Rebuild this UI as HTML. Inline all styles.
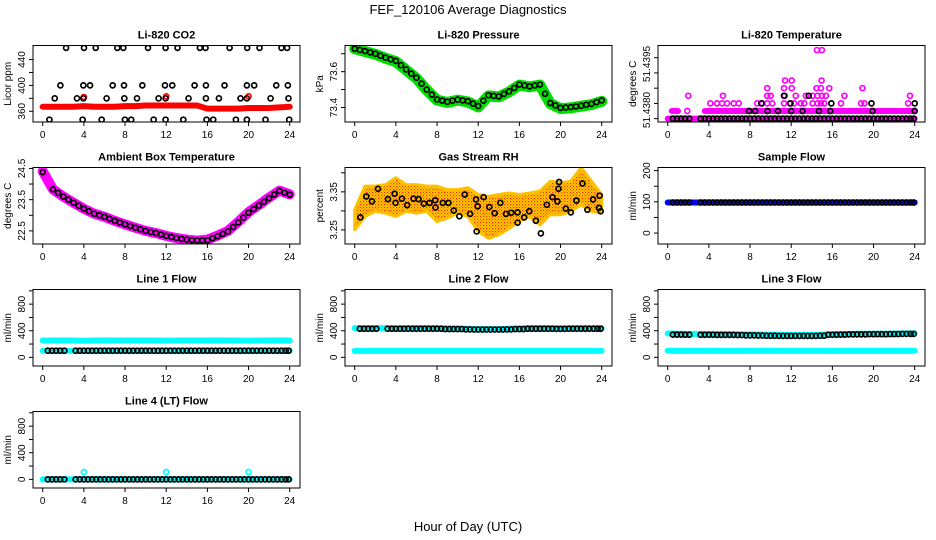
<!DOCTYPE html>
<html><head><meta charset="utf-8">
<style>
html,body{margin:0;padding:0;background:#fff;}
svg{display:block;font-family:"Liberation Sans",Arial,sans-serif;}
.t{font-weight:bold;font-size:11px;}
.ax{font-size:10px;}
</style></head>
<body>
<svg id="chart" width="936" height="540" viewBox="0 0 936 540">
<defs>
<pattern id="rhpat" width="3" height="3" patternUnits="userSpaceOnUse">
<rect width="3" height="3" fill="#ffd400"/>
<rect x="0" y="0" width="1.2" height="1.2" fill="#ff2000"/>
<rect x="1.5" y="1.5" width="1.2" height="1.2" fill="#ff6000"/>
</pattern>
</defs>
<text x="468" y="14" text-anchor="middle" font-size="13">FEF_120106  Average Diagnostics</text>
<text x="468" y="531" text-anchor="middle" font-size="13">Hour of Day (UTC)</text>
</svg>
<script>
// ---------- data ----------
const hours = [0,1,2,3,4,5,6,7,8,9,10,11,12,13,14,15,16,17,18,19,20,21,22,23,24];
const xTicks = [0,4,8,12,16,20,24];
const obsT = [0.5,0.9,1.3,1.7,2.1,3.2,3.6,4.0,4.4,4.8,5.2,5.6,6.0,6.4,6.8,7.2,7.6,8.0,8.4,8.8,9.2,9.6,10.0,10.4,10.8,11.2,11.6,12.0,12.4,12.8,13.2,13.6,14.0,14.4,14.8,15.2,15.6,16.0,16.4,16.8,17.2,17.6,18.0,18.4,18.8,19.2,19.6,20.0,20.4,20.8,21.2,21.6,22.0,22.4,22.8,23.2,23.6,23.9];

const co2Band = [367,367,367,367,368,367,367,367,368,368,369,369,369,369,369,369,364,364,364,364,365,365,365,366,367];
const co2BlackT = [2.27,4.01,5.15,7.25,7.83,10.23,11.94,13.1,15.27,15.82,18.16,19.87,21.07,23.2,23.75,
 1.72,3.95,4.6,6.8,7.9,9.68,11.88,12.59,14.76,15.86,17.67,19.84,20.55,22.69,23.82,
 1.17,3.33,3.95,6.21,7.93,9.16,11.26,11.94,14.17,15.86,17.12,19.22,19.84,22.14,23.88,
 0.65,3.88,5.73,7.99,8.6,10.78,11.94,13.66,15.92,16.57,18.77,19.84,21.65,23.95];
const co2BlackV = [458,458,458,458,458,458,458,458,458,458,458,458,458,458,458,
 400,400,400,400,400,400,400,400,400,400,400,400,400,400,400,
 380,380,380,380,380,380,380,380,380,380,380,380,380,380,380,
 347,347,347,347,347,347,347,347,347,347,347,347,347,347];
const co2RedT = [4,12,20];
const co2RedV = [382,383,383];

const pressBand = [73.728,73.712,73.697,73.675,73.656,73.609,73.563,73.497,73.441,73.428,73.441,73.431,73.403,73.465,73.459,73.487,73.525,73.515,73.525,73.422,73.394,73.398,73.407,73.416,73.434];
const pressBlack = [73.728,73.715,73.700,73.678,73.660,73.612,73.566,73.500,73.445,73.432,73.444,73.435,73.408,73.468,73.462,73.490,73.528,73.518,73.528,73.425,73.398,73.402,73.410,73.420,73.440];

const tempDenseStart = [0.0, 3.6, 0.4];
const tempDenseEnd = [24.0, 24.0, 1.0];
const tempDenseV = [51.4380, 51.43825, 51.43825];
const tempMagT = [1.9,2.0,4.14,4.79,5.28,5.77,6.42,6.9,8.7,9.19,9.67,10.16,11.3,11.95,12.28,12.93,13.26,14.07,14.56,14.89,15.21,16.84,18.79,19.12,23.36,
 5.37,9.67,10.0,11.37,12.44,13.42,14.07,14.56,14.98,15.37,17.17,23.54,
 9.67,11.3,12.05,14.46,14.89,15.7,18.93, 11.4,12.05,14.95, 14.5,14.98];
const tempMagV = [51.43825,51.43875,51.4385,51.4385,51.4385,51.4385,51.4385,51.4385,51.4385,51.4385,51.4385,51.4385,51.4385,51.4385,51.4385,51.4385,51.4385,51.4385,51.4385,51.4385,51.4385,51.4385,51.4385,51.4385,51.4385,
 51.43875,51.43875,51.43875,51.43875,51.43875,51.43875,51.43875,51.43875,51.43875,51.43875,51.43875,51.43875,
 51.4390,51.4390,51.4390,51.4390,51.4390,51.4390,51.4390, 51.43925,51.43925,51.43925, 51.44025,51.44025];
const tempBlackT = [11.3,13.7,9.1,11.9,15.9,19.8,24.0,7.9,8.5,9.7,10.7,12.0,13.1,14.7,15.8,19.9,24.0];
const tempBlackV = [51.43875,51.43875,51.4385,51.4385,51.4385,51.4385,51.4385,51.43825,51.43825,51.43825,51.43825,51.43825,51.43825,51.43825,51.43825,51.43825,51.43825];
const tempBaseBlack = 51.4380;

const ambBand = [24.41,23.83,23.6,23.4,23.21,23.05,22.95,22.82,22.71,22.6,22.5,22.43,22.34,22.27,22.22,22.19,22.22,22.35,22.5,22.79,23.1,23.33,23.57,23.79,23.67];
const ambBlack = [24.38,23.83,23.6,23.4,23.21,23.05,22.95,22.82,22.71,22.6,22.5,22.43,22.34,22.27,22.22,22.19,22.2,22.33,22.48,22.77,23.08,23.31,23.55,23.78,23.66];

const rhUpper = [3.303,3.365,3.365,3.369,3.387,3.369,3.369,3.365,3.365,3.356,3.356,3.361,3.343,3.338,3.343,3.347,3.343,3.347,3.352,3.378,3.374,3.378,3.414,3.378,3.343];
const rhLower = [3.25,3.285,3.299,3.294,3.285,3.299,3.294,3.299,3.272,3.281,3.294,3.285,3.246,3.228,3.237,3.254,3.272,3.285,3.263,3.29,3.29,3.299,3.316,3.299,3.294];
const rhBlackT = [0.55,1.13,1.68,2.26,3.23,3.88,3.97,4.59,5.1,5.72,6.2,6.72,7.27,7.82,7.85,8.56,9.11,9.63,10.17,10.69,11.21,11.79,11.85,11.95,12.53,13.08,13.6,14.15,14.7,15.21,15.83,15.83,16.47,16.96,17.6,18.09,18.67,19.22,19.7,19.8,19.86,20.51,21.0,21.54,22.13,22.61,23.16,23.74,23.8,23.9];
const rhBlackV = [3.283,3.338,3.325,3.358,3.331,3.345,3.321,3.332,3.315,3.332,3.331,3.319,3.321,3.328,3.309,3.321,3.321,3.301,3.286,3.343,3.292,3.330,3.246,3.312,3.336,3.310,3.294,3.321,3.292,3.295,3.296,3.269,3.283,3.299,3.274,3.241,3.316,3.336,3.325,3.358,3.376,3.306,3.296,3.327,3.372,3.303,3.330,3.308,3.340,3.299];

const sampleBand = [98,98,98,98,98,98,98,98,98,98,98,98,98,98,98,98,98,98,98,98,98,98,98,98,98];
const sampleBlack = [98,98,98,98,98,98,98,98,98,98,98,98,98,98,98,98,98,98,98,98,98,98,98,98,98];

const l1Upper = [254,254,254,254,250,254,254,254,254,254,254,254,252,254,254,254,254,254,254,254,250,254,254,254,254];
const l1Lower = [100,100,100,100,100,100,100,100,100,100,100,100,100,100,100,100,100,100,100,100,100,100,100,100,100];
const l1Black = [100,100,100,100,100,100,100,100,100,100,100,100,100,100,100,100,100,100,100,100,100,100,100,100,100];

const l2Upper = [440,440,440,440,435,440,440,440,440,435,435,430,425,425,425,430,435,440,440,440,435,440,440,440,440];
const l2Lower = [98,98,98,98,98,98,98,98,98,98,98,98,98,98,98,98,98,98,98,98,98,98,98,98,98];
const l2Black = [430,430,430,430,430,430,430,430,430,425,425,420,418,418,418,420,425,430,430,430,428,430,430,430,430];

const l3Upper = [360,355,352,350,350,350,348,345,345,342,340,338,338,338,340,342,348,350,352,355,355,355,358,360,362];
const l3Lower = [100,100,100,100,100,100,100,100,100,100,100,100,100,100,100,100,100,100,100,100,100,100,100,100,100];
const l3Black = [345,342,340,340,340,338,338,335,330,328,325,322,322,322,322,325,340,342,345,345,348,348,350,352,352];

const l4Band = [0,0,0,0,0,0,0,0,0,0,0,0,0,0,0,0,0,0,0,0,0,0,0,0,0];
const l4Black = [0,0,0,0,0,0,0,0,0,0,0,0,0,0,0,0,0,0,0,0,0,0,0,0,0];
const l4SpikeT = [4,12,20];
const l4SpikeV = [110,110,110];

// ---------- layout ----------
const NS = 'http://www.w3.org/2000/svg';
const svg = document.getElementById('chart');
const colL = [33, 345, 658];
const rowT = [45.5, 167.5, 289.5, 411.5];
const W = 267, H = 76.5;

function mk(tag, attrs, parent){
  const e = document.createElementNS(NS, tag);
  for (const k in attrs) e.setAttribute(k, attrs[k]);
  (parent||svg).appendChild(e);
  return e;
}

function panel(col,row,title,ylab,dom,ticks,labels,slug){
  const L = colL[col], T = rowT[row];
  const g = mk('g',{});
  
  
  const x = t => L + 9.7 + t*(247/24);
  const y = v => T + H - (v-dom[0])/(dom[1]-dom[0])*H;
  const tt = mk('text',{x:L+W/2,y:T-7,'text-anchor':'middle','class':'t'},g);
  tt.textContent = title;
  
  
  const yl = mk('text',{x:0,y:0,'text-anchor':'middle','class':'ax',transform:`translate(${L-22},${T+H/2}) rotate(-90)`},g);
  yl.textContent = ylab;
  
  
  const xa = mk('g',{},g);
  
  
  mk('line',{x1:x(0),x2:x(24),y1:T+H,y2:T+H,stroke:'#000','stroke-width':1},xa);
  xTicks.forEach(t=>{
    mk('line',{x1:x(t),x2:x(t),y1:T+H,y2:T+H+4,stroke:'#000','stroke-width':1},xa);
    const lb = mk('text',{x:x(t),y:T+H+16,'text-anchor':'middle','class':'ax'},xa);
    lb.textContent = t;
  });
  const ya = mk('g',{},g);
  
  
  mk('line',{x1:L,x2:L,y1:y(ticks[0]),y2:y(ticks[ticks.length-1]),stroke:'#000','stroke-width':1},ya);
  ticks.forEach(v=>{
    mk('line',{x1:L-4,x2:L,y1:y(v),y2:y(v),stroke:'#000','stroke-width':1},ya);
  });
  labels.forEach(lbv=>{
    const yy = lbv.at!==undefined ? lbv.at : y(lbv.v);
    const lb = mk('text',{x:0,y:0,'text-anchor':'middle','class':'ax',transform:`translate(${L-8},${yy}) rotate(-90)`},ya);
    lb.textContent = lbv.s;
  });
  const plot = mk('g',{},g);
  
  
  const clip = 'clip'+col+row;
  const cp = mk('clipPath',{id:clip},g);
  mk('rect',{x:L,y:T,width:W,height:H},cp);
  plot.setAttribute('clip-path', `url(#${clip})`);
  const box = mk('rect',{x:L,y:T,width:W,height:H,fill:'none',stroke:'#000','stroke-width':1},g);
  
  
  return {x,y,plot,g,box};
}

function band(P, vals, color, w, name){
  const pts = hours.map((h,i)=>P.x(h)+','+P.y(vals[i])).join(' ');
  const pl = mk('polyline',{points:pts,fill:'none',stroke:color,'stroke-width':w,'stroke-linejoin':'round','stroke-linecap':'round'},P.plot);
  
  
  return pl;
}
function circ(P, t, v, color, name, r){
  const c = mk('circle',{cx:P.x(t),cy:P.y(v),r:r||2.5,fill:'none',stroke:color,'stroke-width':1.7},P.plot);
  
  
}
function obsCircles(P, vals, name){
  obsT.forEach(t=>circ(P, t, vals[Math.round(t)], '#000', name));
}

// CO2
let P = panel(0,0,'Li-820 CO2','Licor ppm',[343.4,461.7],[360,380,400,420,440],[{v:360,s:'360'},{v:400,s:'400'},{v:440,s:'440'}],'co2');
band(P, co2Band, '#ff0000', 6, 'co2-red-band');
co2RedT.forEach((t,i)=>circ(P,t,co2RedV[i],'#ff0000','co2-red-point'));
co2BlackT.forEach((t,i)=>circ(P,t,co2BlackV[i],'#000','co2-black-point'));

// Pressure
P = panel(1,0,'Li-820 Pressure','kPa',[73.319,73.746],[73.4,73.5,73.6,73.7],[{v:73.4,s:'73.4'},{v:73.6,s:'73.6'}],'pressure');
band(P, pressBand, '#00e000', 11, 'pressure-green-band');
hours.forEach((h,i)=>circ(P,h,pressBlack[i],'#000','pressure-black-point'));
hours.slice(0,24).forEach((h,i)=>circ(P,h+0.5,(pressBlack[i]+pressBlack[i+1])/2,'#000','pressure-black-point'));

// Li-820 temperature
P = panel(2,0,'Li-820 Temperature','degrees C',[51.43789,51.4404],[51.4380,51.4385,51.4390,51.4395,51.4400],[{v:51.4380,s:'51.4380',at:110},{v:51.4395,s:'51.4395',at:64}],'li820-temp');
tempDenseStart.forEach((s,i)=>{
  const ln = mk('line',{x1:P.x(s),x2:P.x(tempDenseEnd[i]),y1:P.y(tempDenseV[i]),y2:P.y(tempDenseV[i]),stroke:'#ff00ff','stroke-width':6,'stroke-linecap':'round'},P.plot);
  
  
});
tempMagT.forEach((t,i)=>circ(P,t,tempMagV[i],'#ff00ff','temp-magenta-point'));
obsT.forEach(t=>circ(P,t,tempBaseBlack,'#000','temp-black-point'));
tempBlackT.forEach((t,i)=>circ(P,t,tempBlackV[i],'#000','temp-black-point'));

// Ambient
P = panel(0,1,'Ambient Box Temperature','degrees C',[22.08,24.53],[22.5,23,23.5,24,24.5],[{v:22.5,s:'22.5'},{v:23.5,s:'23.5'},{v:24.5,s:'24.5'}],'ambient');
band(P, ambBand, '#ff00ff', 10, 'ambient-magenta-band');
hours.forEach((h,i)=>circ(P,h,ambBlack[i],'#000','ambient-black-point'));
hours.slice(1,24).forEach((h,i)=>circ(P,h+0.5,(ambBlack[i+1]+ambBlack[i+2])/2,'#000','ambient-black-point'));

// RH
P = panel(1,1,'Gas Stream RH','percent',[3.213,3.414],[3.25,3.30,3.35,3.40],[{v:3.25,s:'3.25'},{v:3.35,s:'3.35'}],'rh');
{
  const up = hours.map((h,i)=>P.x(h)+','+P.y(rhUpper[i]));
  const lo = hours.map((h,i)=>P.x(h)+','+P.y(rhLower[i])).reverse();
  const pg = mk('polygon',{points:up.concat(lo).join(' '),fill:'url(#rhpat)',stroke:'#ffc000','stroke-width':3,'stroke-linejoin':'round'},P.plot);
  
  
}
rhBlackT.forEach((t,i)=>circ(P,t,rhBlackV[i],'#000','rh-black-point'));

// Sample flow
P = panel(2,1,'Sample Flow','ml/min',[-35,210],[0,50,100,150,200],[{v:0,s:'0'},{v:100,s:'100'},{v:200,s:'200'}],'sample-flow');
band(P, sampleBand, '#0000ff', 6, 'sample-blue-band');
obsCircles(P, sampleBlack, 'sample-black-point');

const fTicks=[0,200,400,600,800,1000], fLab=[{v:0,s:'0'},{v:400,s:'400'},{v:800,s:'800'}], fDom=[-130,1020];
P = panel(0,2,'Line 1 Flow','ml/min',fDom,fTicks,fLab,'line1-flow');
band(P, l1Upper, '#00ffff', 6, 'line1-cyan-upper');
band(P, l1Lower, '#00ffff', 6, 'line1-cyan-lower');
obsCircles(P, l1Black, 'line1-black-point');
P = panel(1,2,'Line 2 Flow','ml/min',fDom,fTicks,fLab,'line2-flow');
band(P, l2Upper, '#00ffff', 6, 'line2-cyan-upper');
band(P, l2Lower, '#00ffff', 6, 'line2-cyan-lower');
obsCircles(P, l2Black, 'line2-black-point');
P = panel(2,2,'Line 3 Flow','ml/min',fDom,fTicks,fLab,'line3-flow');
band(P, l3Upper, '#00ffff', 6, 'line3-cyan-upper');
band(P, l3Lower, '#00ffff', 6, 'line3-cyan-lower');
obsCircles(P, l3Black, 'line3-black-point');
P = panel(0,3,'Line 4 (LT) Flow','ml/min',fDom,fTicks,fLab,'line4-flow');
band(P, l4Band, '#00ffff', 6, 'line4-cyan-band');
l4SpikeT.forEach((t,i)=>circ(P,t,l4SpikeV[i],'#00ffff','line4-cyan-spike'));
obsCircles(P, l4Black, 'line4-black-point');
</script>
</body></html>
